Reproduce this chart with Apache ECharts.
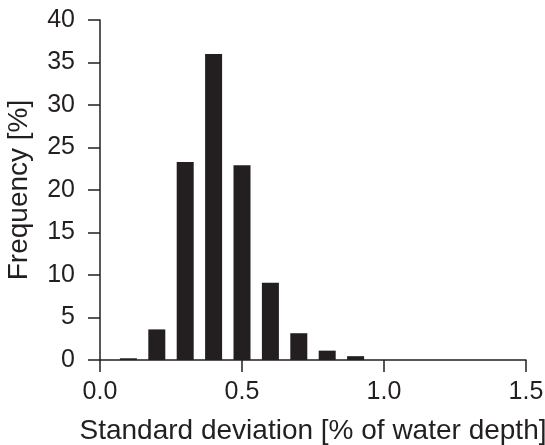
<!DOCTYPE html>
<html>
<head>
<meta charset="utf-8">
<script src="https://cdn.jsdelivr.net/npm/echarts@6/dist/echarts.min.js"></script>
<style>
  html, body { margin: 0; padding: 0; background: #fff; }
  #chart { width: 545px; height: 445px; }
</style>
</head>
<body>
<div id="chart"></div>
<script>
// Histogram bins (standard deviation, % of water depth) and frequencies (%)
const binCenters = [0.1, 0.2, 0.3, 0.4, 0.5, 0.6, 0.7, 0.8, 0.9];
const frequencies = [0.2, 3.6, 23.3, 36.0, 22.9, 9.1, 3.15, 1.1, 0.45];
const xTicks = [0.0, 0.5, 1.0, 1.5];
const yTicks = [0, 5, 10, 15, 20, 25, 30, 35, 40];

const ink = '#231f20';
const font = 'Liberation Sans, Arial, Helvetica, sans-serif';
const labelSize = 25;
const titleSize = 28;

const chart = echarts.init(document.getElementById('chart'), null, { renderer: 'canvas' });
chart.setOption({
  animation: false,
  backgroundColor: '#fff',
  grid: {
    left: 100, right: 19, top: 20, bottom: 85,
    containLabel: false,
    outerBoundsMode: 'none'
  },
  xAxis: {
    type: 'value',
    min: xTicks[0],
    max: xTicks[xTicks.length - 1],
    interval: 0.5,
    name: 'Standard deviation [% of water depth]',
    nameLocation: 'middle',
    nameGap: 57,
    nameTextStyle: { fontFamily: font, fontSize: titleSize, color: ink },
    axisLine: { lineStyle: { color: ink, width: 1.5 } },
    axisTick: { show: true, length: 12, lineStyle: { color: ink, width: 1.5 } },
    axisLabel: {
      margin: 20, fontFamily: font, fontSize: labelSize, color: ink,
      formatter: v => v.toFixed(1)
    },
    splitLine: { show: false }
  },
  yAxis: {
    type: 'value',
    min: yTicks[0],
    max: yTicks[yTicks.length - 1],
    interval: 5,
    name: 'Frequency [%]',
    nameLocation: 'middle',
    nameGap: 67,
    nameRotate: 90,
    nameTextStyle: { fontFamily: font, fontSize: titleSize, color: ink },
    axisLine: { show: true, lineStyle: { color: ink, width: 1.5 } },
    axisTick: { show: true, length: 12, lineStyle: { color: ink, width: 1.5 } },
    axisLabel: { margin: 25, fontFamily: font, fontSize: labelSize, color: ink },
    splitLine: { show: false }
  },
  series: [{
    type: 'bar',
    data: binCenters.map((x, i) => [x, frequencies[i]]),
    barWidth: 17,
    itemStyle: { color: ink }
  }]
});
</script>
</body>
</html>
